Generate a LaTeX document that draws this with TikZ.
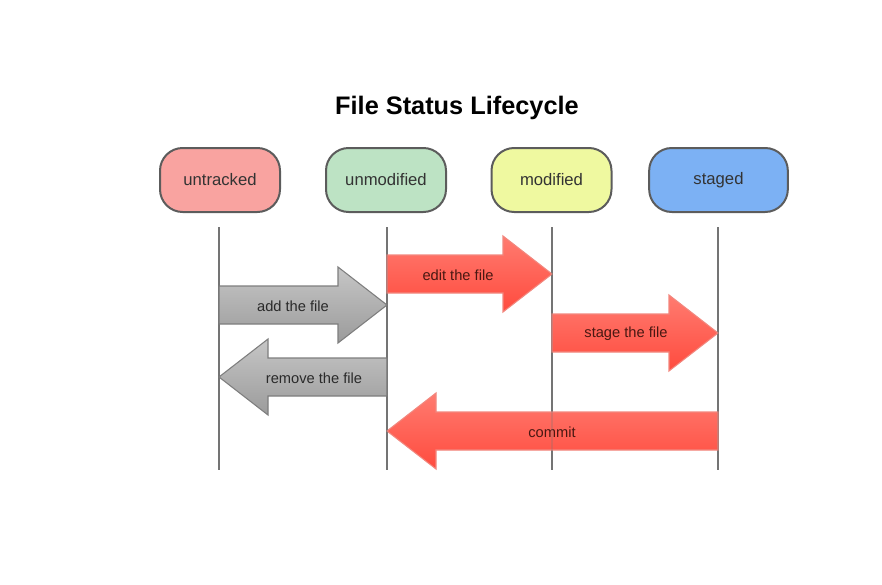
\documentclass[tikz,border=0pt]{standalone}
\usepackage{fontspec}
\setmainfont{Liberation Sans}

\definecolor{stateedge}{HTML}{5C5C5C}
\definecolor{statetext}{HTML}{333333}
\definecolor{untrackedfill}{HTML}{F9A3A0}
\definecolor{unmodifiedfill}{HTML}{BDE3C4}
\definecolor{modifiedfill}{HTML}{EFF9A0}
\definecolor{stagedfill}{HTML}{7CB1F4}
\definecolor{laneline}{HTML}{747474}
\definecolor{redtop}{HTML}{FF7B70}
\definecolor{redbot}{HTML}{FF4B3E}
\definecolor{rededge}{HTML}{F2877E}
\definecolor{redtext}{HTML}{4A1812}
\definecolor{graytop}{HTML}{C6C6C6}
\definecolor{graybot}{HTML}{9B9B9B}
\definecolor{grayedge}{HTML}{7E7E7E}
\definecolor{graytext}{HTML}{2A2A2A}

% fat block arrow: #1 label name, #2 tail x, #3 tip x, #4 centre y,
% #5 style, #6 label x, #7 label text
\newcommand\fatarrow[7]{%
  \pgfmathsetmacro\headbase{#3-49*sign(#3-#2)}%
  \shade[#5] (#2,#4-19) -- (\headbase,#4-19) -- (\headbase,#4-38) -- (#3,#4)
    -- (\headbase,#4+38) -- (\headbase,#4+19) -- (#2,#4+19) -- cycle;
  \node[arrowlabel] (#1) at (#6,#4+1) {#7};%
}

\begin{document}
\begin{tikzpicture}[x=0.75pt,y=-0.75pt,
  state/.style={draw=stateedge, line width=1.5pt, rounded corners=17pt,
    minimum width=90pt, minimum height=48pt, inner sep=0pt,
    font=\fontsize{12.5}{15}\selectfont, text=statetext},
  lane/.style={draw=laneline, line width=1.4pt},
  redarrow/.style={top color=redtop, bottom color=redbot, draw=rededge, line width=0.8pt},
  grayarrow/.style={top color=graytop, bottom color=graybot, draw=grayedge, line width=0.8pt},
  arrowlabel/.style={font=\fontsize{11}{13}\selectfont, text=redtext}
]
\useasboundingbox (0,0) rectangle (882,585);

% title
\node[font=\bfseries\fontsize{19}{22}\selectfont, text=black] (title) at (457,108)
  {File Status Lifecycle};

% the four states
\node[state, fill=untrackedfill]  (untracked)  at (220,180)   {untracked};
\node[state, fill=unmodifiedfill] (unmodified) at (386,180)   {unmodified};
\node[state, fill=modifiedfill]   (modified)   at (551.5,180) {modified};
\node[state, fill=stagedfill, minimum width=104pt] (staged) at (718.5,180) {staged};

% lane ends
\coordinate (untracked-end)  at (219,470);
\coordinate (unmodified-end) at (387,470);
\coordinate (modified-end)   at (552,470);
\coordinate (staged-end)     at (718,470);

% lanes
\foreach \s in {untracked,unmodified,modified,staged}{
  \draw[lane] ([yshift=-10.5pt]\s.south -| \s-end) -- (\s-end);
}

% transitions
\fatarrow{edit}{387}{552}{274}{redarrow}{458}{edit the file}
\fatarrow{add}{219}{387}{305}{grayarrow}{293}{\textcolor{graytext}{add the file}}
\fatarrow{stage}{552}{718}{333}{redarrow}{626}{stage the file}
\fatarrow{remove}{387}{219}{377}{grayarrow}{314}{\textcolor{graytext}{remove the file}}
\fatarrow{commit}{718}{387}{431}{redarrow}{552}{commit}

% lanes faintly visible through the arrows
\foreach \s in {untracked,unmodified,modified,staged}{
  \draw[lane, opacity=0.25] ([yshift=-10.5pt]\s.south -| \s-end) -- (\s-end);
}
\end{tikzpicture}
\end{document}
